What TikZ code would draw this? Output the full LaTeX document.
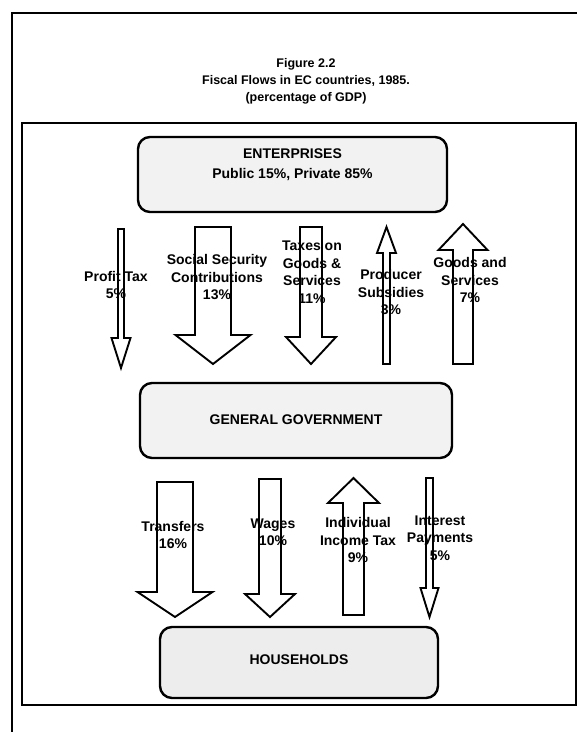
\documentclass[tikz,border=0pt]{standalone}
\usepackage{fontspec}
\setmainfont{Liberation Sans}
\begin{document}
\begin{tikzpicture}[x=1pt,y=-1pt,
  frameline/.style={line width=2pt,black},
  sectorbox/.style={draw=black,line width=2.4pt,rounded corners=12pt,fill=black!5,inner sep=0pt},
  blockarrow/.style={draw=black,line width=1.9pt,fill=white,line join=miter},
  flowlabel/.style={font=\fontsize{14}{17.5}\selectfont\bfseries,align=center,inner sep=0pt},
  boxtext/.style={font=\fontsize{14}{20}\selectfont\bfseries,align=center,inner sep=0pt},
  titletext/.style={font=\fontsize{12.5}{17}\selectfont\bfseries,align=center,inner sep=0pt}]
\useasboundingbox (0,0) rectangle (577,732);
% block arrow: centre x, shaft half width, head half width, tail y, head base y, tip y
\newcommand{\flowarrow}[6]{%
  \draw[blockarrow] (#1-#2,#4) -- (#1+#2,#4) -- (#1+#2,#5) -- (#1+#3,#5) -- (#1,#6)
     -- (#1-#3,#5) -- (#1-#2,#5) -- cycle;}
% frames
\draw[frameline,line width=2.4pt] (12,732) -- (12,13) -- (578,13);
\draw[frameline] (22,123) rectangle (576,705);
% title
\node[titletext] (title) at (306,81) {Figure 2.2\\Fiscal Flows in EC countries, 1985.\\(percentage of GDP)};
% sector boxes
\path[sectorbox] (138,137) rectangle (447,212);
\node[boxtext] (ent) at (292.5,165) {ENTERPRISES\\Public 15\%, Private 85\%};
\path[sectorbox] (140,383) rectangle (452,458);
\node[boxtext] (gov) at (296,420) {GENERAL GOVERNMENT};
\path[sectorbox,fill=black!7] (160,627) rectangle (438,698);
\node[boxtext] (hh) at (299,660) {HOUSEHOLDS};
% upper flows
\flowarrow{121}{3}{9.5}{229}{338}{368}
\flowarrow{213}{18}{37.5}{227}{335}{364}
\flowarrow{311}{11}{25}{227}{337}{364}
\flowarrow{386.5}{3.5}{9.5}{364}{253}{227}
\flowarrow{463}{10}{24.5}{364}{250}{224}
% lower flows
\flowarrow{175}{18}{37.5}{482}{592}{617}
\flowarrow{270}{11}{25}{479}{594}{617}
\flowarrow{353.5}{10.5}{25.5}{615}{503}{478}
\flowarrow{429.5}{3.5}{9}{478}{588}{617}
% labels
\node[flowlabel] (l1) at (116,285) {Profit Tax\\5\%};
\node[flowlabel] (l2) at (217,277) {Social Security\\Contributions\\13\%};
\node[flowlabel] (l3) at (312,272) {Taxes on\\Goods \&\\Services\\11\%};
\node[flowlabel] (l4) at (391,292) {Producer\\Subsidies\\3\%};
\node[flowlabel] (l5) at (470,280) {Goods and\\Services\\7\%};
\node[flowlabel] (l6) at (173,535) {Transfers\\16\%};
\node[flowlabel] (l7) at (273,532) {Wages\\10\%};
\node[flowlabel] (l8) at (358,540) {Individual\\Income Tax\\9\%};
\node[flowlabel] (l9) at (440,538) {Interest\\Payments\\5\%};
\end{tikzpicture}
\end{document}
